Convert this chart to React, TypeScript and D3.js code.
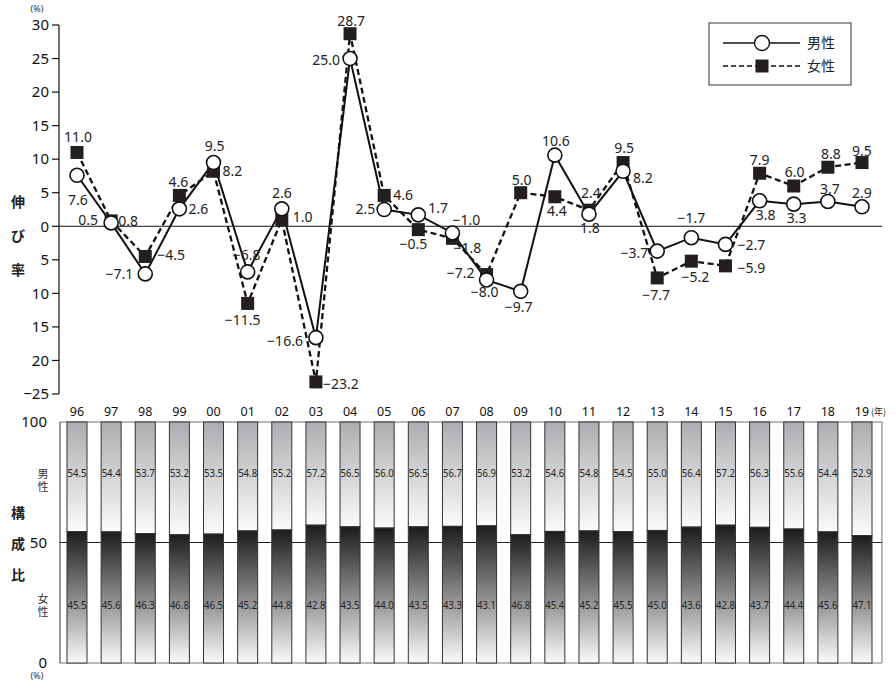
import React from 'react';
import * as d3 from 'd3';

const years = ['96','97','98','99','00','01','02','03','04','05','06','07','08','09','10','11','12','13','14','15','16','17','18','19'];
const maleGrowth = [7.6,0.5,-7.1,2.6,9.5,-6.8,2.6,-16.6,25.0,2.5,1.7,-1.0,-8.0,-9.7,10.6,1.8,8.2,-3.7,-1.7,-2.7,3.8,3.3,3.7,2.9];
const femaleGrowth = [11.0,0.8,-4.5,4.6,8.2,-11.5,1.0,-23.2,28.7,4.6,-0.5,-1.8,-7.2,5.0,4.4,2.4,9.5,-7.7,-5.2,-5.9,7.9,6.0,8.8,9.5];
const maleShare = [54.5,54.4,53.7,53.2,53.5,54.8,55.2,57.2,56.5,56.0,56.5,56.7,56.9,53.2,54.6,54.8,54.5,55.0,56.4,57.2,56.3,55.6,54.4,52.9];
const femaleShare = [45.5,45.6,46.3,46.8,46.5,45.2,44.8,42.8,43.5,44.0,43.5,43.3,43.1,46.8,45.4,45.2,45.5,45.0,43.6,42.8,43.7,44.4,45.6,47.1];
const growthTicks = [30,25,20,15,10,5,0,-5,-10,-15,-20,-25];
const growthTickLabels = ['30','25','20','15','10','5','0','5','10','15','20','−25'];
const shareTicks = [100,50,0];

// label placement: [anchor, dx, dy]
type LP = [string, number, number];
const maleLabelPos: LP[] = [
  ['middle',1,25],['end',-13,-3],['end',-12,0],['start',9,0],['middle',1,-16],['middle',-1,-17],
  ['middle',0,-16],['end',-13,3],['end',-10,2],['end',-9,0],['start',10,-7],['middle',14,-13],
  ['middle',-2,12],['middle',-2,16],['middle',1,-14],['middle',1,14],['start',10,7],['end',-9,2],
  ['middle',0,-20],['start',12,1],['middle',6,14],['middle',3,14],['middle',2,-12],['middle',0,-14]
];
const femaleLabelPos: LP[] = [
  ['middle',1,-15],['start',7,0],['start',12,-1],['middle',-1,-13],['start',9,0],['middle',-5,17],
  ['start',11,-2],['start',7,2],['middle',1,-13],['start',9,0],['middle',-5,14],['middle',15,10],
  ['end',-12,-1],['middle',1,-13],['middle',2,14],['middle',2,-17],['middle',1,-14],['middle',-1,17],
  ['middle',4,16],['start',12,2],['middle',0,-13],['middle',1,-14],['middle',3,-13],['middle',0,-11]
];

const fmt = (v: number) => (v < 0 ? '−' + Math.abs(v).toFixed(1) : v.toFixed(1));
const numFont = '"Noto Sans", "Open Sans", sans-serif';
const jpFont = '"Noto Sans CJK JP", sans-serif';

export default function App() {
  const x = d3.scalePoint<string>().domain(years).range([77, 862]);
  const yG = d3.scaleLinear().domain([-25, 30]).range([394, 25]);
  const yS = d3.scaleLinear().domain([0, 100]).range([663, 422]);
  const line = d3.line<number>().x((_, i) => x(years[i]) as number).y(d => yG(d));
  const barW = 20;
  const axisX = 59;
  const rightX = 882;

  return (
    <svg width={896} height={690} style={{ position: 'absolute', left: 0, top: 0, background: '#fff' }}>
      <defs>
        <linearGradient id="gTop" x1="0" y1="0" x2="0" y2="1">
          <stop offset="0" stopColor="#acadb0" />
          <stop offset="1" stopColor="#fbfbfb" />
        </linearGradient>
        <linearGradient id="gBot" x1="0" y1="0" x2="0" y2="1">
          <stop offset="0" stopColor="#1c1c1c" />
          <stop offset="0.5" stopColor="#8a8a8a" />
          <stop offset="1" stopColor="#fbfbfb" />
        </linearGradient>
      </defs>

      {/* ---------- Top chart ---------- */}
      <text x={37} y={12} fontSize={9} fontFamily={numFont} fill="#333" textAnchor="middle">(%)</text>
      <line x1={axisX} x2={axisX} y1={yG(30)} y2={yG(-25)} stroke="#111" strokeWidth={1.2} />
      {growthTicks.map((t, i) => (
        <g key={'gt' + i}>
          <line x1={axisX - 7} x2={axisX} y1={yG(t)} y2={yG(t)} stroke="#111" strokeWidth={1.2} />
          <text x={49} y={yG(t)} dy="0.35em" textAnchor="end" fontSize={15} fontFamily={numFont} fill="#111">{growthTickLabels[i]}</text>
        </g>
      ))}
      <line x1={axisX} x2={rightX} y1={yG(0)} y2={yG(0)} stroke="#111" strokeWidth={1} />
      {['伸', 'び', '率'].map((c, i) => (
        <text key={'gl' + i} x={18} y={202 + i * 34} dy="0.35em" textAnchor="middle" fontSize={14} fontWeight="bold" fontFamily={jpFont} fill="#222">{c}</text>
      ))}

      <path d={line(femaleGrowth) || ''} fill="none" stroke="#111" strokeWidth={2.3} strokeDasharray="6,3.5" />
      <path d={line(maleGrowth) || ''} fill="none" stroke="#111" strokeWidth={2} />
      {femaleGrowth.map((v, i) => (
        <rect key={'fs' + i} x={(x(years[i]) as number) - 6.5} y={yG(v) - 6.5} width={13} height={13} fill="#231f20" />
      ))}
      {maleGrowth.map((v, i) => (
        <circle key={'mc' + i} cx={x(years[i]) as number} cy={yG(v)} r={7} fill="#fff" stroke="#111" strokeWidth={1.6} />
      ))}
      {maleGrowth.map((v, i) => {
        const [a, dx, dy] = maleLabelPos[i];
        return (
          <text key={'ml' + i} x={(x(years[i]) as number) + dx} y={yG(v) + dy} dy="0.35em" textAnchor={a} fontSize={14} fontFamily={numFont} fill="#222">{fmt(v)}</text>
        );
      })}
      {femaleGrowth.map((v, i) => {
        const [a, dx, dy] = femaleLabelPos[i];
        return (
          <text key={'fl' + i} x={(x(years[i]) as number) + dx} y={yG(v) + dy} dy="0.35em" textAnchor={a} fontSize={14} fontFamily={numFont} fill="#222">{fmt(v)}</text>
        );
      })}

      {/* Legend */}
      <rect x={709} y={23} width={142} height={62} fill="#fff" stroke="#333" strokeWidth={1} />
      <line x1={723} x2={800} y1={43} y2={43} stroke="#111" strokeWidth={1.6} />
      <circle cx={762} cy={43} r={7.5} fill="#fff" stroke="#111" strokeWidth={1.4} />
      <text x={807} y={43} dy="0.35em" fontSize={14} fontFamily={jpFont} fill="#222">男性</text>
      <line x1={723} x2={800} y1={66} y2={66} stroke="#111" strokeWidth={1.6} strokeDasharray="5,3" />
      <rect x={755.5} y={59.5} width={13} height={13} fill="#231f20" />
      <text x={807} y={66} dy="0.35em" fontSize={14} fontFamily={jpFont} fill="#222">女性</text>

      {/* ---------- Bottom chart ---------- */}
      {years.map((yr, i) => (
        <text key={'yr' + i} x={x(yr) as number} y={412} dy="0.35em" textAnchor="middle" fontSize={12.5} fontFamily={numFont} fill="#111">{yr}</text>
      ))}
      <text x={871} y={412} dy="0.35em" fontSize={9} fontFamily={jpFont} fill="#222">(年)</text>

      <line x1={60} x2={rightX} y1={yS(100)} y2={yS(100)} stroke="#777" strokeWidth={1} />
      <line x1={60} x2={rightX} y1={yS(0)} y2={yS(0)} stroke="#777" strokeWidth={1} />
      <line x1={rightX} x2={rightX} y1={yS(100)} y2={yS(0)} stroke="#777" strokeWidth={1} />
      <line x1={60} x2={60} y1={yS(100)} y2={yS(0)} stroke="#555" strokeWidth={1.2} />
      <line x1={60} x2={rightX} y1={yS(50)} y2={yS(50)} stroke="#222" strokeWidth={1} />
      {shareTicks.map(t => (
        <text key={'st' + t} x={47} y={yS(t)} dy="0.35em" textAnchor="end" fontSize={15} fontFamily={numFont} fill="#111">{t}</text>
      ))}
      <text x={37} y={679} fontSize={9} fontFamily={numFont} fill="#333" textAnchor="middle">(%)</text>
      {['構', '成', '比'].map((c, i) => (
        <text key={'sl' + i} x={18} y={513 + i * 31} dy="0.35em" textAnchor="middle" fontSize={14} fontWeight="bold" fontFamily={jpFont} fill="#222">{c}</text>
      ))}
      <text x={43} y={468} fontSize={11} fontFamily={jpFont} fill="#333" style={{ writingMode: 'vertical-rl' }} letterSpacing={2}>男性</text>
      <text x={43} y={593} fontSize={11} fontFamily={jpFont} fill="#333" style={{ writingMode: 'vertical-rl' }} letterSpacing={2}>女性</text>

      {years.map((yr, i) => {
        const cx = x(yr) as number;
        const split = yS(maleShare[i]);
        return (
          <g key={'bar' + i}>
            <rect x={cx - barW / 2} y={yS(100)} width={barW} height={split - yS(100)} fill="url(#gTop)" stroke="#333" strokeWidth={1} />
            <rect x={cx - barW / 2} y={split} width={barW} height={yS(0) - split} fill="url(#gBot)" stroke="#333" strokeWidth={1} />
            <text x={cx} y={473} dy="0.35em" textAnchor="middle" fontSize={10} fontFamily={numFont} fill="#222" textLength={19} lengthAdjust="spacingAndGlyphs">{maleShare[i].toFixed(1)}</text>
            <text x={cx} y={605} dy="0.35em" textAnchor="middle" fontSize={10} fontFamily={numFont} fill="#222" textLength={19} lengthAdjust="spacingAndGlyphs">{femaleShare[i].toFixed(1)}</text>
          </g>
        );
      })}
    </svg>
  );
}
